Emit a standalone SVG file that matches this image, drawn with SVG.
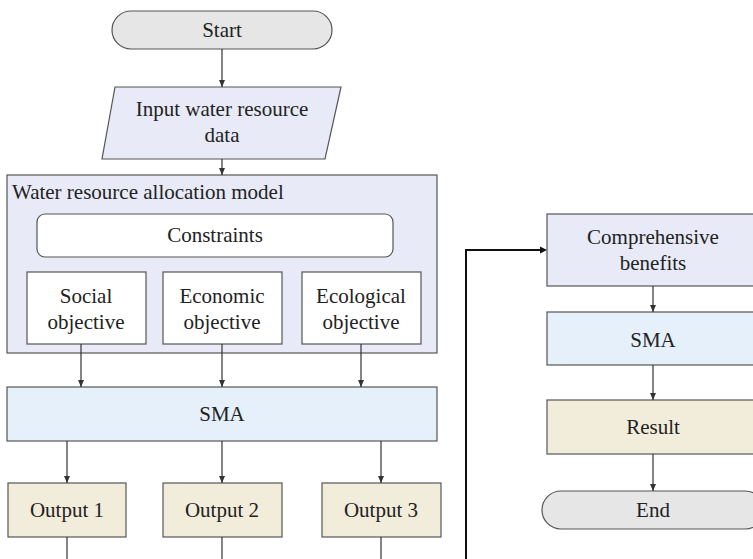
<svg xmlns="http://www.w3.org/2000/svg" width="753" height="559" viewBox="0 0 753 559" font-family="Liberation Serif, Times New Roman, serif">
<defs>
<marker id="ah" markerWidth="8" markerHeight="8" refX="7" refY="4" orient="auto" markerUnits="userSpaceOnUse">
<path d="M0,1 L7,4 L0,7 Z" fill="#333"/>
</marker>
<style>
text{font-size:21px;fill:#222;text-anchor:middle}
.box{stroke:#555;stroke-width:1.2}
.term{fill:#e6e6e6}
.lav{fill:#e8ebf7}
.sma{fill:#e5f0fb}
.out{fill:#f2eddb}
.wht{fill:#ffffff}
.c{fill:none;stroke:#333;stroke-width:1.2}
.fb{fill:none;stroke:#111;stroke-width:2}
</style>
</defs>
<rect width="753" height="559" fill="#fff"/>
<g id="start"><rect class="box term" x="112" y="11" width="220" height="38" rx="19"/><text x="222" y="37" font-family="Liberation Serif, serif">Start</text></g>
<g id="input"><path class="box lav" d="M115,87 L341,87 L325,159 L102,159 Z"/><text x="222" y="116">Input water resource</text><text x="222" y="142">data</text></g>
<g id="model"><rect class="box lav" x="7" y="175" width="430" height="178"/><text x="12" y="199" style="text-anchor:start">Water resource allocation model</text></g>
<g id="constraints"><rect class="box wht" x="37" y="214" width="356" height="43" rx="8"/><text x="215" y="242">Constraints</text></g>
<g id="social"><rect class="box wht" x="27" y="272" width="119" height="72"/><text x="86" y="303">Social</text><text x="86" y="329">objective</text></g>
<g id="economic"><rect class="box wht" x="163" y="272" width="119" height="72"/><text x="222" y="303">Economic</text><text x="222" y="329">objective</text></g>
<g id="ecological"><rect class="box wht" x="302" y="272" width="119" height="72"/><text x="361" y="303">Ecological</text><text x="361" y="329">objective</text></g>
<g id="sma1"><rect class="box sma" x="7" y="387" width="430" height="54"/><text x="222" y="421">SMA</text></g>
<g id="out1"><rect class="box out" x="8" y="483" width="118" height="54"/><text x="67" y="517">Output 1</text></g>
<g id="out2"><rect class="box out" x="163" y="483" width="119" height="54"/><text x="222" y="517">Output 2</text></g>
<g id="out3"><rect class="box out" x="322" y="483" width="119" height="54"/><text x="381" y="517">Output 3</text></g>
<g id="comprehensive"><rect class="box lav" x="547" y="214" width="212" height="72"/><text x="653" y="244">Comprehensive</text><text x="653" y="270">benefits</text></g>
<g id="sma2"><rect class="box sma" x="547" y="312" width="212" height="53"/><text x="653" y="347">SMA</text></g>
<g id="result"><rect class="box out" x="547" y="400" width="212" height="54"/><text x="653" y="434">Result</text></g>
<g id="end"><rect class="box term" x="542" y="491" width="222" height="38" rx="19"/><text x="653" y="517">End</text></g>
<g id="connectors">
<path class="c" d="M222,49 V87" marker-end="url(#ah)"/>
<path class="c" d="M222,159 V175" marker-end="url(#ah)"/>
<path class="c" d="M81,344 V387" marker-end="url(#ah)"/>
<path class="c" d="M222,344 V387" marker-end="url(#ah)"/>
<path class="c" d="M361,344 V387" marker-end="url(#ah)"/>
<path class="c" d="M67,441 V483" marker-end="url(#ah)"/>
<path class="c" d="M222,441 V483" marker-end="url(#ah)"/>
<path class="c" d="M381,441 V483" marker-end="url(#ah)"/>
<path class="c" d="M67,537 V560"/>
<path class="c" d="M222,537 V560"/>
<path class="c" d="M381,537 V560"/>
<path class="fb" d="M466,560 V250 H545"/>
<path d="M540,246.5 L547,250 L540,253.5 Z" fill="#111"/>
<path class="c" d="M653,286 V312" marker-end="url(#ah)"/>
<path class="c" d="M653,365 V400" marker-end="url(#ah)"/>
<path class="c" d="M653,454 V491" marker-end="url(#ah)"/>
</g>
</svg>
